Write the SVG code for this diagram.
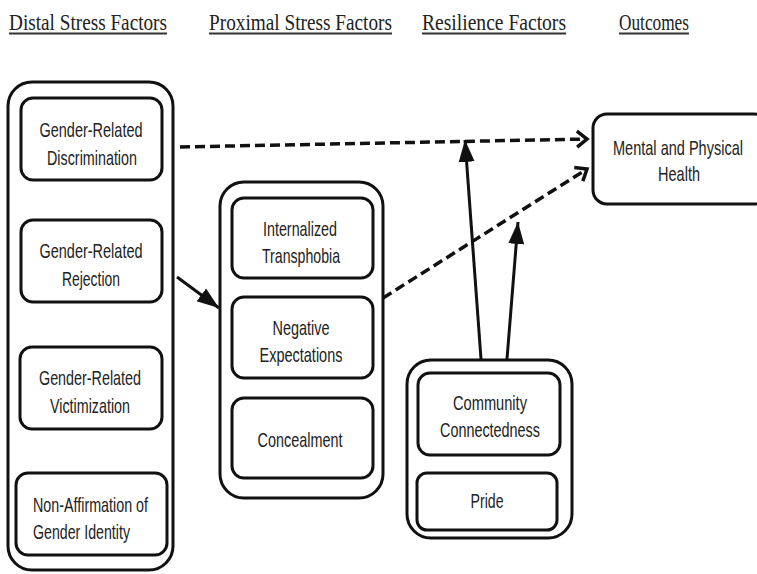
<svg xmlns="http://www.w3.org/2000/svg" width="757" height="574" viewBox="0 0 757 574">
<style>
.hd{font-family:"Liberation Serif","Times New Roman",serif;font-size:24px;fill:#222}
.ul{stroke:#333;stroke-width:2}
.box{fill:#fff;stroke:#111;stroke-width:3}
.t{font-family:"Liberation Sans",Arial,sans-serif;font-size:21px;fill:#222;text-anchor:middle}
.tl{font-family:"Liberation Sans",Arial,sans-serif;font-size:21px;fill:#222}
.dash{fill:none;stroke:#111;stroke-width:3.5;stroke-dasharray:10 5}
.sol{fill:none;stroke:#111;stroke-width:3}
</style>
<defs>
<marker id="open" markerUnits="userSpaceOnUse" markerWidth="20" markerHeight="20" refX="14" refY="10" orient="auto">
<path d="M4,2 L14,10 L4,18" fill="none" stroke="#111" stroke-width="3.5"/>
</marker>
<marker id="fill" markerUnits="userSpaceOnUse" markerWidth="24" markerHeight="20" refX="22" refY="10" orient="auto">
<path d="M0,2 L22,10 L0,18 Z" fill="#111"/>
</marker>
</defs>

<g id="headers">
<text class="hd" x="9" y="30" textLength="158" lengthAdjust="spacingAndGlyphs">Distal Stress Factors</text>
<line class="ul" x1="9" y1="33.5" x2="167" y2="33.5"/>
<text class="hd" x="209" y="30" textLength="183" lengthAdjust="spacingAndGlyphs">Proximal Stress Factors</text>
<line class="ul" x1="209" y1="33.5" x2="392" y2="33.5"/>
<text class="hd" x="422" y="30" textLength="144" lengthAdjust="spacingAndGlyphs">Resilience Factors</text>
<line class="ul" x1="422" y1="33.5" x2="566" y2="33.5"/>
<text class="hd" x="619" y="30" textLength="70" lengthAdjust="spacingAndGlyphs">Outcomes</text>
<line class="ul" x1="619" y1="33.5" x2="689" y2="33.5"/>
</g>

<g id="distal">
<rect class="box" x="8" y="82" width="165" height="488" rx="24"/>
</g>
<g id="discrimination">
<rect class="box" x="21" y="98" width="141" height="82" rx="12"/>
<text class="t" x="91" y="137" textLength="103" lengthAdjust="spacingAndGlyphs">Gender-Related</text>
<text class="t" x="92" y="165" textLength="90" lengthAdjust="spacingAndGlyphs">Discrimination</text>
</g>
<g id="rejection">
<rect class="box" x="21" y="220" width="141" height="82" rx="12"/>
<text class="t" x="91" y="258" textLength="103" lengthAdjust="spacingAndGlyphs">Gender-Related</text>
<text class="t" x="91" y="286" textLength="58" lengthAdjust="spacingAndGlyphs">Rejection</text>
</g>
<g id="victimization">
<rect class="box" x="20" y="347" width="142" height="82" rx="12"/>
<text class="t" x="90" y="385" textLength="102" lengthAdjust="spacingAndGlyphs">Gender-Related</text>
<text class="t" x="90" y="413" textLength="80" lengthAdjust="spacingAndGlyphs">Victimization</text>
</g>
<g id="nonaffirmation">
<rect class="box" x="16" y="473" width="151" height="82" rx="12"/>
<text class="tl" x="33" y="512" textLength="115" lengthAdjust="spacingAndGlyphs">Non-Affirmation of</text>
<text class="tl" x="33" y="539" textLength="97" lengthAdjust="spacingAndGlyphs">Gender Identity</text>
</g>

<g id="proximal">
<rect class="box" x="220" y="182" width="163" height="316" rx="24"/>
</g>
<g id="internalized">
<rect class="box" x="232" y="198" width="141" height="80" rx="12"/>
<text class="t" x="300" y="236" textLength="74" lengthAdjust="spacingAndGlyphs">Internalized</text>
<text class="t" x="301" y="263" textLength="78" lengthAdjust="spacingAndGlyphs">Transphobia</text>
</g>
<g id="negative">
<rect class="box" x="232" y="297" width="141" height="81" rx="12"/>
<text class="t" x="301" y="335" textLength="57" lengthAdjust="spacingAndGlyphs">Negative</text>
<text class="t" x="301" y="362" textLength="83" lengthAdjust="spacingAndGlyphs">Expectations</text>
</g>
<g id="concealment">
<rect class="box" x="232" y="398" width="141" height="80" rx="12"/>
<text class="t" x="300" y="447" textLength="85" lengthAdjust="spacingAndGlyphs">Concealment</text>
</g>

<g id="resilience">
<rect class="box" x="407" y="360" width="165" height="178" rx="24"/>
</g>
<g id="community">
<rect class="box" x="418" y="373" width="142" height="82" rx="12"/>
<text class="t" x="490" y="410" textLength="74" lengthAdjust="spacingAndGlyphs">Community</text>
<text class="t" x="490" y="437" textLength="100" lengthAdjust="spacingAndGlyphs">Connectedness</text>
</g>
<g id="pride">
<rect class="box" x="417" y="473" width="140" height="57" rx="10"/>
<text class="t" x="487" y="508" textLength="33" lengthAdjust="spacingAndGlyphs">Pride</text>
</g>

<g id="outcome">
<rect class="box" x="593" y="114" width="175" height="90" rx="14"/>
<text class="t" x="678" y="155" textLength="130" lengthAdjust="spacingAndGlyphs">Mental and Physical</text>
<text class="t" x="679" y="181" textLength="42" lengthAdjust="spacingAndGlyphs">Health</text>
</g>

<g id="connectors">
<line class="dash" x1="180" y1="147" x2="587" y2="139" marker-end="url(#open)"/>
<line class="dash" x1="383" y1="298" x2="587" y2="169" marker-end="url(#open)"/>
<line class="sol" x1="177" y1="277" x2="219" y2="308" marker-end="url(#fill)"/>
<line class="sol" x1="481" y1="359" x2="465" y2="140" marker-end="url(#fill)"/>
<line class="sol" x1="507" y1="359" x2="518" y2="222" marker-end="url(#fill)"/>
</g>
</svg>
